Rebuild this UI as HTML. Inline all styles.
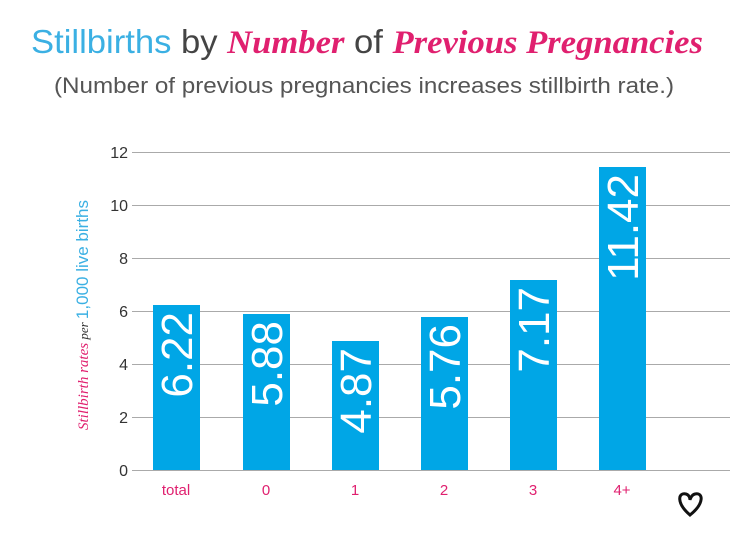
<!DOCTYPE html>
<html><head><meta charset="utf-8"><style>
body{margin:0;background:#fff;width:734px;height:530px;overflow:hidden}
</style></head><body>
<svg width="734" height="530" xmlns="http://www.w3.org/2000/svg" font-family="Liberation Sans, sans-serif">
<text x="367" y="53" text-anchor="middle" font-size="33" textLength="672" lengthAdjust="spacingAndGlyphs"><tspan fill="#3bb0e3" font-weight="300">Stillbirths</tspan><tspan fill="#444"> by </tspan><tspan fill="#e0206f" font-family="Liberation Serif, serif" font-style="italic" font-weight="bold">Number</tspan><tspan fill="#444"> of </tspan><tspan fill="#e0206f" font-family="Liberation Serif, serif" font-style="italic" font-weight="bold">Previous Pregnancies</tspan></text>
<text x="364" y="93" text-anchor="middle" font-size="22" fill="#555" textLength="620" lengthAdjust="spacingAndGlyphs">(Number of previous pregnancies increases stillbirth rate.)</text>
<g stroke="#aaa" stroke-width="1">
<line x1="132" x2="730" y1="152.5" y2="152.5"/><line x1="132" x2="730" y1="205.5" y2="205.5"/>
<line x1="132" x2="730" y1="258.5" y2="258.5"/><line x1="132" x2="730" y1="311.5" y2="311.5"/>
<line x1="132" x2="730" y1="364.5" y2="364.5"/><line x1="132" x2="730" y1="417.5" y2="417.5"/>
<line x1="132" x2="730" y1="470.5" y2="470.5"/></g>
<g font-size="16" fill="#333" text-anchor="end">
<text x="128" y="158">12</text><text x="128" y="211">10</text><text x="128" y="264">8</text>
<text x="128" y="317">6</text><text x="128" y="370">4</text><text x="128" y="423">2</text><text x="128" y="476">0</text></g>
<g fill="#00a6e6">
<rect x="153" y="305" width="47" height="165"/><rect x="243" y="314" width="47" height="156"/>
<rect x="332" y="341" width="47" height="129"/><rect x="421" y="317" width="47" height="153"/>
<rect x="510" y="280" width="47" height="190"/><rect x="599" y="167" width="47" height="303"/></g>
<g fill="#fff" font-size="44" text-anchor="end">
<text transform="translate(192,312) rotate(-90)">6.22</text>
<text transform="translate(282,321) rotate(-90)">5.88</text>
<text transform="translate(371,348) rotate(-90)">4.87</text>
<text transform="translate(460,324) rotate(-90)">5.76</text>
<text transform="translate(549,287) rotate(-90)">7.17</text>
<text transform="translate(638,174) rotate(-90)">11.42</text></g>
<g fill="#e0206f" font-size="15" text-anchor="middle">
<text x="176" y="495">total</text><text x="266" y="495">0</text><text x="355" y="495">1</text>
<text x="444" y="495">2</text><text x="533" y="495">3</text><text x="622" y="495">4+</text></g>
<text transform="translate(88,430) rotate(-90)" font-size="17"><tspan fill="#e0206f" font-family="Liberation Serif, serif" font-style="italic" font-size="15">Stillbirth rates</tspan><tspan fill="#333" font-family="Liberation Serif, serif" font-style="italic" font-size="13"> per </tspan><tspan fill="#3bb0e3">1,000 live births</tspan></text>
<path d="M690 515 C676 503 678 492 686 494 C690 495 690 500 690 500 C690 500 691 495 695 494 C703 492 705 503 690 515 Z" fill="none" stroke="#111" stroke-width="3"/>
</svg>
</body></html>
